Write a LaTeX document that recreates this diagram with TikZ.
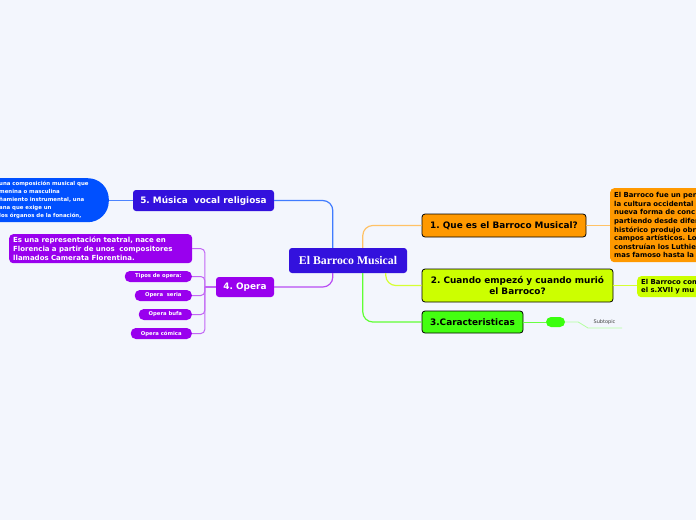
\documentclass[tikz,border=0pt]{standalone}
\usepackage{fontspec}
\setmainfont{DejaVu Sans}
\newfontfamily\rootfont{Liberation Serif}
\usepackage{tikz}
\usetikzlibrary{calc, positioning}
\usepackage{xcolor}
\frenchspacing

\definecolor{bgpaper}{RGB}{243,246,253}
\definecolor{rootblue}{RGB}{51,17,221}
\definecolor{brightblue}{RGB}{0,80,255}
\definecolor{operapurple}{RGB}{153,0,238}
\definecolor{queorange}{RGB}{255,153,0}
\definecolor{cuandoyellow}{RGB}{204,255,0}
\definecolor{caracgreen}{RGB}{68,255,17}

\tikzset{
  topic/.style={draw=black, line width=0.8pt, rounded corners=3pt, inner sep=0pt,
    font=\bfseries\fontsize{8.9}{10.8}\selectfont, align=center},
  darktopic/.style={rounded corners=3pt, inner sep=0pt, text=white,
    font=\bfseries\fontsize{8.9}{10.8}\selectfont, align=center},
  notebox/.style={anchor=north west, rounded corners=4pt, inner xsep=4pt, inner ysep=0pt,
    align=left, font=\bfseries\fontsize{6.9}{8.6}\selectfont},
  opill/.style={fill=operapurple, rounded corners=5pt, text=white, anchor=east,
    minimum height=11pt, inner sep=0pt, font=\bfseries\fontsize{5.3}{6}\selectfont},
  link/.style={line width=1.2pt, rounded corners=10pt},
}

\begin{document}
\begin{tikzpicture}[x=1pt, y=-1pt]

        % 1. Paper and bounding box
        \fill[bgpaper] (0,0) rectangle (696,520);
        \useasboundingbox (0,0) rectangle (696,520);

        % 2. Central topic and main branches
        \node[darktopic, fill=rootblue, minimum width=118pt, minimum height=25pt,
              font=\rootfont\bfseries\fontsize{11.8}{13}\selectfont] (root) at (348,260.5) {El Barroco Musical};

        \node[topic, fill=queorange, minimum width=164pt, minimum height=23pt] (que) at (504,225.5) {1. Que es el Barroco Musical?};
        \node[topic, fill=cuandoyellow, minimum width=191pt, minimum height=33pt] (cuando) at (517.5,285.5)
              {2. Cuando empezó y cuando murió\\el Barroco?};
        \node[topic, fill=caracgreen, minimum width=101pt, minimum height=22pt] (carac) at (472.5,322) {3.Caracteristicas};

        \node[darktopic, fill=rootblue, minimum width=141pt, minimum height=21pt] (musica) at (203.5,200.5) {5. Música\ \ vocal religiosa};
        \node[darktopic, fill=operapurple, minimum width=58pt, minimum height=20pt] (opera) at (245,287) {4. Opera};

        % 3. Notes on the right (cut by the page edge)
        \node[notebox, fill=queorange, text width=120pt, minimum height=74pt] (quenote) at (610,188)
              {El Barroco fue un per\\la cultura occidental\\nueva forma de conc\\partiendo desde difer\\histórico produjo obr\\campos artísticos. Lo\\construían los Luthie\\mas famoso hasta la};
        \node[notebox, fill=cuandoyellow, text width=90pt, minimum height=21pt] (cuandonote) at (637,276)
              {El Barroco com\\el s.XVII y mu};

        % subtopic of 3
        \node[fill=caracgreen!85!green, rounded corners=5pt, minimum width=19pt, minimum height=10pt, inner sep=0pt] (pill) at (555.5,322) {};
        \node[font=\fontsize{5}{5}\selectfont, text=black!75, inner sep=0pt] (subtopic) at (604.5,322) {Subtopic};
        \coordinate (subA) at (588,328);
        \coordinate (subB) at (622,328);

        % 4. Notes on the left
        \node[anchor=north east, fill=brightblue, rounded corners=21pt, minimum width=170pt, minimum height=44pt] (musnote) at (109,178) {};
        \node[anchor=north west, text=white, align=left, inner sep=0pt,
              font=\bfseries\fontsize{5.4}{8}\selectfont] at (-1,180.5)
              {una composición musical que\\menina o masculina\\ñamiento instrumental, una\\ana que exige un\\los órganos de la fonación,};

        \node[notebox, fill=operapurple, text=white, text width=175pt, minimum height=29pt,
              font=\bfseries\fontsize{7}{9.2}\selectfont] (operanote) at (9,234)
              {Es una representación teatral, nace en\\Florencia a partir de unos\ \ compositores\\llamados Camerata Florentina.};

        \node[opill, minimum width=67pt] (tipos) at (192,276.5) {Tipos de opera:};
        \node[opill, minimum width=57pt] (seria) at (192,295.5) {Opera\ \ seria};
        \node[opill, minimum width=53pt] (bufa) at (192,314.5) {Opera bufa};
        \node[opill, minimum width=61pt] (comica) at (192,333.5) {Opera cómica};

        % 5. Connectors
        \draw[link, color=queorange!60] ([xshift=74pt]root.north west) |- (que.west);
        \draw[link, color=cuandoyellow!80!white] ([xshift=97pt]root.south west) |- (cuando.west);
        \draw[link, color=caracgreen!85!white] ([xshift=74pt]root.south west) |- (carac.west);
        \draw[link, color=brightblue!75!white] ([xshift=44pt]root.north west) |- (musica.east);
        \draw[link, color=operapurple!70!white] ([xshift=44pt]root.south west) |- (opera.east);

        \draw[line width=1pt, color=queorange!60] (que.east) -- (quenote.west |- que.east);
        \draw[line width=1pt, color=cuandoyellow!80!white] (cuando.east) -- (cuandonote.west |- cuando.east);
        \draw[line width=1pt, color=caracgreen!80!white] (carac.east) -- (pill.west);
        \draw[line width=0.8pt, color=caracgreen!40!white] (pill.east) -- ++(13,0) -- (subA) -- (subB);
        \draw[line width=1pt, color=brightblue!70!white] (musnote.east |- musica.west) -- (musica.west);

        % opera bracket
        \coordinate (ob) at ($(opera.west)+(-11,0)$);
        \draw[line width=1.2pt, color=operapurple!60!white] (opera.west) -- (ob);
        \foreach \kid in {operanote, tipos, seria, bufa, comica}
          \draw[line width=1pt, color=operapurple!60!white, rounded corners=4pt]
            (ob) |- (\kid.east -| {(192,0)});

\end{tikzpicture}
\end{document}
